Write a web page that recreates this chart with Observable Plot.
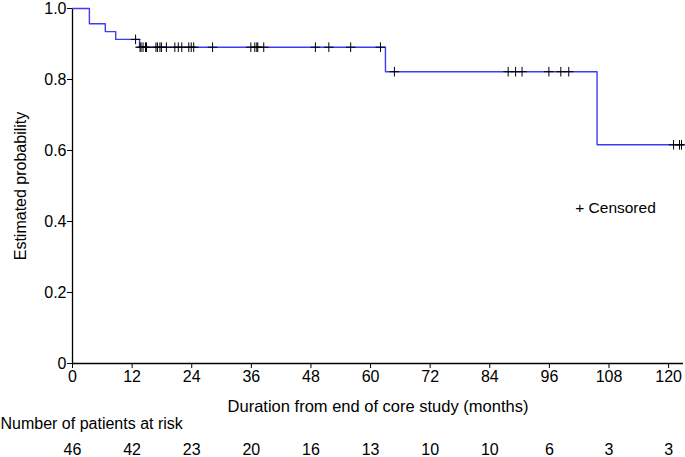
<!DOCTYPE html>
<html>
<head>
<meta charset="utf-8">
<script src="https://cdn.jsdelivr.net/npm/d3@7"></script>
<script src="https://cdn.jsdelivr.net/npm/@observablehq/plot@0.6"></script>
<style>
  html, body { margin: 0; padding: 0; background: #fff; }
  #chart { width: 685px; height: 457px; }
  svg { font-family: "Liberation Sans", Arial, sans-serif; }
</style>
</head>
<body>
<div id="chart"></div>
<script>
// Kaplan-Meier step curve (time in months, estimated probability)
const stepTimes = [0, 3.4, 6.6, 8.7, 13.5, 63.0, 105.6, 123];
const stepSurv  = [1, 0.957, 0.935, 0.913, 0.891, 0.822, 0.616, 0.616];

// Censored observation times (months)
const censorTimes = [12.7, 13.6, 13.8, 14.2, 14.7, 14.9, 16.8, 17.1, 17.6, 17.9, 18.9,
  20.6, 21.3, 22.0, 23.4, 23.9, 24.4, 28.2, 35.9, 36.7, 37.1, 37.3, 38.5,
  48.9, 51.6, 56.0, 62.0, 64.8, 87.7, 89.2, 90.5, 95.9, 98.3, 99.9, 121.0, 122.2, 122.6];

// Number at risk table
const riskMonths = [0, 12, 24, 36, 48, 60, 72, 84, 96, 108, 120];
const riskCounts = [46, 42, 23, 20, 16, 13, 10, 10, 6, 3, 3];

const xTicks = [0, 12, 24, 36, 48, 60, 72, 84, 96, 108, 120];
const yTicks = [0, 0.2, 0.4, 0.6, 0.8, 1.0];

const curve = stepTimes.map((t, i) => ({t, s: stepSurv[i]}));
const bis = d3.bisector(d => d.t).right;
const censored = censorTimes.map(t => ({t, s: curve[Math.max(0, bis(curve, t) - 1)].s}));
const risk = riskMonths.map((m, i) => ({m, n: riskCounts[i]}));

const blue = "#3c3cf4";

const chart = Plot.plot({
  width: 685,
  height: 457,
  marginLeft: 72,
  marginRight: 2,
  marginTop: 8,
  marginBottom: 94,
  style: {fontFamily: "'Liberation Sans', Arial, sans-serif", fontSize: "16px", color: "#000", background: "#fff", overflow: "visible"},
  x: {domain: [0, 123]},
  y: {domain: [0, 1]},
  marks: [
    Plot.axisX({ticks: xTicks, tickSize: 5, tickPadding: 2, fontSize: 16, label: null}),
    Plot.axisY({ticks: yTicks, tickSize: 5, tickPadding: 1, fontSize: 16, label: null,
      tickFormat: d => d === 0 ? "0" : d.toFixed(1)}),
    Plot.ruleX([0], {stroke: "#000", strokeWidth: 1.3}),
    Plot.ruleY([0], {stroke: "#000", strokeWidth: 1.3}),
    Plot.line(curve, {x: "t", y: "s", curve: "step-after", stroke: blue, strokeWidth: 1.4}),
    Plot.dot(censored, {x: "t", y: "s", symbol: "plus", r: 3.2, stroke: "#000", strokeWidth: 1}),
    Plot.text(["+ Censored"], {x: 101.2, y: 0.437, textAnchor: "start", fontSize: 15.5, fill: "#000"}),
    // axis titles
    Plot.text(["Duration from end of core study (months)"], {frameAnchor: "bottom", dy: 48, fontSize: 16.5, fill: "#000"}),
    Plot.text(["Estimated probability"], {frameAnchor: "left", textAnchor: "middle", dx: -52, rotate: -90, fontSize: 16, fill: "#000"}),
    // at-risk table
    Plot.text(["Number of patients at risk"], {frameAnchor: "bottom-left", dx: -72, dy: 65, textAnchor: "start", fontSize: 16, fill: "#000"}),
    Plot.text(risk, {x: "m", y: () => 0, text: "n", dy: 86, fontSize: 16, fill: "#000"})
  ]
});
document.getElementById("chart").appendChild(chart);
</script>
</body>
</html>
